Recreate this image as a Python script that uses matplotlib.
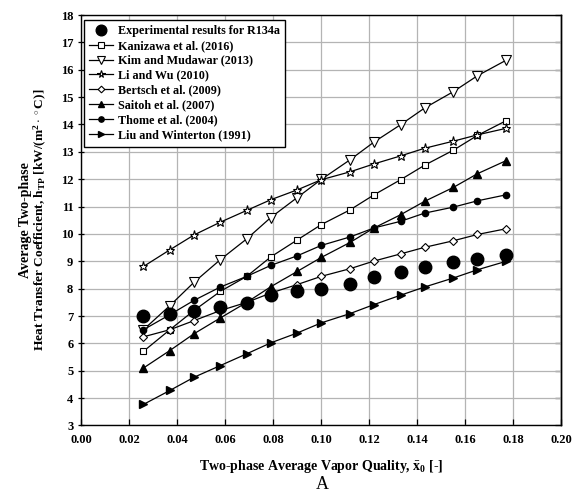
import matplotlib
matplotlib.use("Agg")
import matplotlib.pyplot as plt
from matplotlib.ticker import MultipleLocator, FormatStrFormatter

plt.rcParams['font.family'] = ['Liberation Serif', 'DejaVu Serif']
plt.rcParams['font.weight'] = 'bold'
plt.rcParams['mathtext.fontset'] = 'custom'
plt.rcParams['mathtext.rm'] = 'Liberation Serif:bold'
plt.rcParams['mathtext.it'] = 'Liberation Serif:bold'
plt.rcParams['mathtext.bf'] = 'Liberation Serif:bold'

x = [0.026, 0.037, 0.047, 0.058, 0.069, 0.079, 0.090, 0.100,
     0.112, 0.122, 0.133, 0.143, 0.155, 0.165, 0.177]

experimental = [7.0, 7.08, 7.2, 7.33, 7.48, 7.78, 7.9, 7.99,
                8.18, 8.43, 8.6, 8.78, 8.96, 9.08, 9.22]
kanizawa = [5.71, 6.5, 7.2, 7.9, 8.45, 9.16, 9.78, 10.34,
            10.88, 11.43, 11.98, 12.51, 13.06, 13.6, 14.14]
kim = [6.5, 7.38, 8.23, 9.06, 9.82, 10.6, 11.33, 11.99,
       12.71, 13.36, 13.99, 14.6, 15.2, 15.78, 16.35]
li_wu = [8.81, 9.42, 9.96, 10.43, 10.86, 11.25, 11.61, 11.98,
         12.27, 12.56, 12.85, 13.13, 13.39, 13.62, 13.86]
bertsch = [6.24, 6.5, 6.83, 7.2, 7.5, 7.84, 8.15, 8.45,
           8.73, 9.01, 9.27, 9.51, 9.75, 9.98, 10.19]
saitoh = [5.1, 5.74, 6.35, 6.93, 7.5, 8.07, 8.63, 9.14,
          9.69, 10.22, 10.7, 11.19, 11.7, 12.2, 12.68]
thome = [6.5, 7.05, 7.57, 8.06, 8.45, 8.85, 9.2, 9.58,
         9.89, 10.22, 10.46, 10.76, 10.98, 11.21, 11.43]
liu = [3.77, 4.28, 4.76, 5.19, 5.62, 6.02, 6.38, 6.75,
       7.09, 7.42, 7.76, 8.06, 8.39, 8.69, 9.0]

labels = ["Experimental results for R134a", "Kanizawa et al. (2016)",
          "Kim and Mudawar (2013)", "Li and Wu (2010)", "Bertsch et al. (2009)",
          "Saitoh et al. (2007)", "Thome et al. (2004)", "Liu and Winterton (1991)"]

fig = plt.figure(figsize=(5.74, 4.94), dpi=100)
ax = fig.add_axes([0.1411, 0.1387, 0.8371, 0.8309])

ax.set_xlim(0, 0.20)
ax.set_ylim(3, 18)
ax.xaxis.set_major_locator(MultipleLocator(0.02))
ax.xaxis.set_major_formatter(FormatStrFormatter('%.2f'))
ax.yaxis.set_major_locator(MultipleLocator(1))
ax.grid(True, color='#b4b4b4', linewidth=0.9)
ax.set_axisbelow(True)

lw = 0.9
ax.plot(x, experimental, linestyle='none', marker='o', color='black',
        markersize=9, zorder=5, label=labels[0])
ax.plot(x, kanizawa, '-', color='black', lw=lw, marker='s', mfc='white', mec='black',
        markersize=4.5, mew=0.8, label=labels[1], zorder=3)
ax.plot(x, kim, '-', color='black', lw=lw, marker='v', mfc='white', mec='black',
        markersize=6.5, mew=0.8, label=labels[2], zorder=3)
ax.plot(x, li_wu, '-', color='black', lw=lw, marker='*', mfc='white', mec='black',
        markersize=6.5, mew=0.8, label=labels[3], zorder=3)
ax.plot(x, bertsch, '-', color='black', lw=lw, marker='D', mfc='white', mec='black',
        markersize=4, mew=0.8, label=labels[4], zorder=3)
ax.plot(x, saitoh, '-', color='black', lw=lw, marker='^', mfc='black', mec='black',
        markersize=5.5, label=labels[5], zorder=3)
ax.plot(x, thome, '-', color='black', lw=lw, marker='o', mfc='black', mec='black',
        markersize=4.5, label=labels[6], zorder=3)
ax.plot(x, liu, '-', color='black', lw=lw, marker='>', mfc='black', mec='black',
        markersize=5.5, label=labels[7], zorder=3)

leg = ax.legend(loc='upper left', bbox_to_anchor=(0.006, 0.989),
                frameon=True, fancybox=False, edgecolor='black',
                framealpha=1, fontsize=8.7, handlelength=2.0, handletextpad=0.35,
                borderaxespad=0, labelspacing=0.24, borderpad=0.45, markerscale=0.85)
leg.get_frame().set_linewidth(1.0)
for t in leg.get_texts():
    t.set_fontweight('bold')

for sp in ax.spines.values():
    sp.set_linewidth(1.0)

ax.tick_params(axis='both', which='major', labelsize=9, length=4, width=0.9)
ax.tick_params(axis='y', direction='inout', right=False)
ax.tick_params(axis='x', direction='in', top=False, pad=6)
for lab in ax.get_xticklabels() + ax.get_yticklabels():
    lab.set_fontweight('bold')

sec = ax.secondary_yaxis('right')
sec.yaxis.set_major_locator(MultipleLocator(1))
sec.tick_params(direction='in', length=4, width=0.9, labelright=False)
sec.spines['right'].set_linewidth(1.0)

ax.set_xlabel(r"Two-phase Average Vapor Quality, $\bar{\mathrm{x}}_0$ [-]",
              fontsize=10, fontweight='bold', labelpad=9)
fig.text(0.0436, 0.555, "Average Two-phase", rotation=90,
         ha='center', va='center', fontsize=10, fontweight='bold')
fig.text(0.068, 0.555,
         r"Heat Transfer Coefficient, $\bar{\mathrm{h}}_{\mathrm{TP}}$ [kW/(m$^2\cdot$$^\circ$C)]",
         rotation=90, ha='center', va='center', fontsize=9.6, fontweight='bold')
fig.text(0.561, 0.020, "A", ha='center', va='center', fontsize=13, fontweight='normal')

fig.savefig("out.png", dpi=100)
